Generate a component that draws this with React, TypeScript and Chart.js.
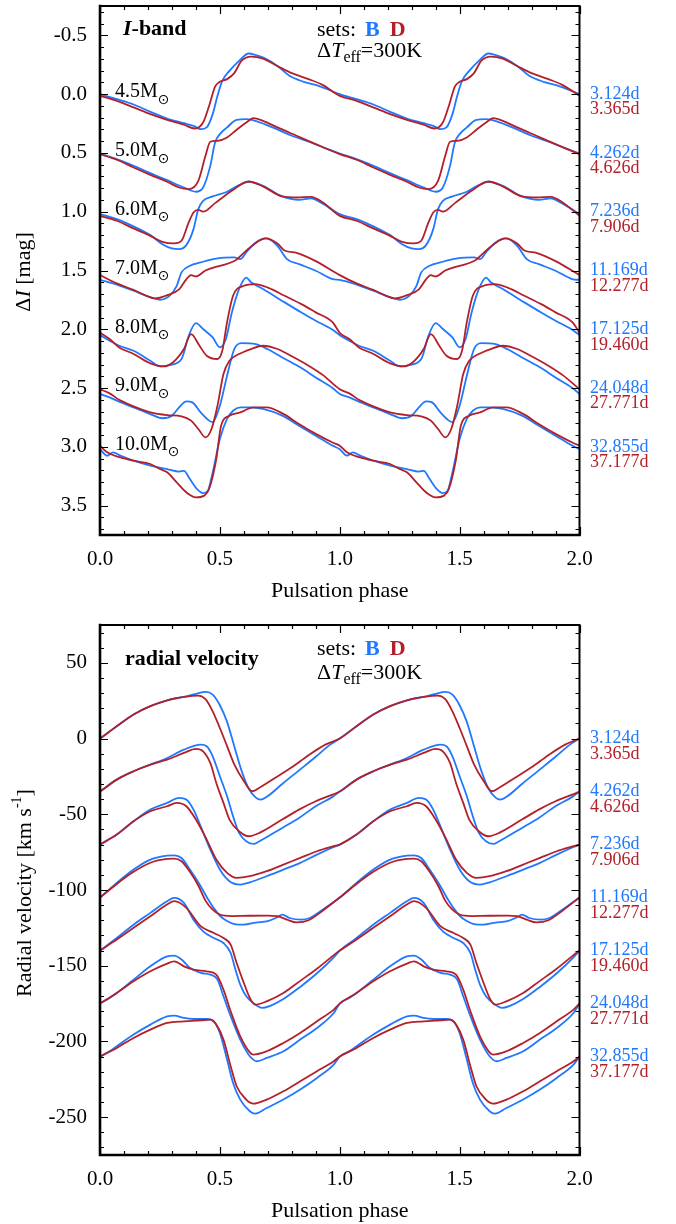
import React, { useEffect, useRef } from 'react';
import { Chart, registerables } from 'chart.js';
Chart.register(...registerables);

const BLUE = '#1f78ff';
const RED = '#b3202a';
const SERIF = '"Liberation Serif", "Times New Roman", serif';

const massLabels = ['4.5', '5.0', '6.0', '7.0', '8.0', '9.0', '10.0'];
const periodsB = ['3.124d', '4.262d', '7.236d', '11.169d', '17.125d', '24.048d', '32.855d'];
const periodsD = ['3.365d', '4.626d', '7.906d', '12.277d', '19.460d', '27.771d', '37.177d'];
const magOffsets = [0, 0.5, 1, 1.5, 2, 2.5, 3];
const rvOffsets = [0, -35, -70, -105, -140, -175, -210];
const phaseTicks = [0, 0.5, 1, 1.5, 2];
const magTicks = [-0.5, 0, 0.5, 1, 1.5, 2, 2.5, 3, 3.5];
const rvTicks = [50, 0, -50, -100, -150, -200, -250];

// ---- I-band light curves, one pulsation cycle: [phase, ΔI] ----
const magB45 = [[0,0],[0.07,0.043],[0.14,0.088],[0.21,0.15],[0.28,0.207],[0.35,0.247],[0.39,0.27],[0.42,0.298],[0.445,0.283],[0.47,0.17],[0.49,0.014],[0.51,-0.113],[0.54,-0.198],[0.58,-0.283],[0.62,-0.346],[0.65,-0.332],[0.69,-0.303],[0.74,-0.24],[0.79,-0.156],[0.85,-0.105],[0.92,-0.065],[1,0]];
const magD45 = [[0,0.014],[0.07,0.057],[0.14,0.113],[0.21,0.17],[0.28,0.218],[0.35,0.26],[0.395,0.292],[0.43,0.241],[0.455,0.1],[0.48,-0.065],[0.5,-0.105],[0.53,-0.128],[0.56,-0.179],[0.59,-0.283],[0.63,-0.32],[0.68,-0.303],[0.74,-0.24],[0.8,-0.179],[0.87,-0.128],[0.93,-0.077],[1,0.014]];
const magB50 = [[0,0.505],[0.07,0.553],[0.14,0.61],[0.21,0.672],[0.28,0.731],[0.35,0.794],[0.4,0.83],[0.43,0.794],[0.46,0.61],[0.48,0.411],[0.5,0.34],[0.53,0.283],[0.57,0.218],[0.61,0.213],[0.66,0.235],[0.72,0.283],[0.8,0.354],[0.88,0.411],[0.95,0.468],[1,0.505]];
const magD50 = [[0,0.51],[0.07,0.558],[0.14,0.624],[0.21,0.686],[0.28,0.745],[0.33,0.794],[0.37,0.808],[0.41,0.737],[0.44,0.524],[0.46,0.405],[0.49,0.397],[0.53,0.368],[0.57,0.303],[0.61,0.241],[0.64,0.204],[0.68,0.227],[0.74,0.283],[0.82,0.354],[0.9,0.425],[1,0.51]];
const magB60 = [[0,1.02],[0.07,1.063],[0.14,1.125],[0.21,1.199],[0.26,1.276],[0.3,1.312],[0.33,1.318],[0.36,1.284],[0.39,1.148],[0.41,0.978],[0.43,0.907],[0.47,0.87],[0.53,0.83],[0.58,0.774],[0.62,0.745],[0.68,0.78],[0.76,0.87],[0.83,0.899],[0.88,0.887],[0.92,0.921],[1,1.02]];
const magD60 = [[0,1.035],[0.07,1.077],[0.14,1.142],[0.21,1.205],[0.26,1.256],[0.31,1.27],[0.34,1.247],[0.37,1.091],[0.39,1.006],[0.41,0.984],[0.43,1.0],[0.48,0.927],[0.55,0.822],[0.62,0.743],[0.68,0.785],[0.76,0.87],[0.82,0.879],[0.88,0.873],[0.93,0.921],[1,1.035]];
const magB70 = [[0,1.58],[0.07,1.62],[0.14,1.672],[0.21,1.729],[0.25,1.749],[0.29,1.716],[0.32,1.63],[0.34,1.516],[0.375,1.46],[0.42,1.431],[0.49,1.397],[0.56,1.389],[0.585,1.403],[0.61,1.346],[0.65,1.261],[0.695,1.227],[0.74,1.29],[0.78,1.403],[0.83,1.446],[0.9,1.502],[0.97,1.573],[1,1.58]];
const magD70 = [[0,1.539],[0.07,1.61],[0.14,1.665],[0.2,1.72],[0.23,1.737],[0.28,1.71],[0.33,1.66],[0.36,1.575],[0.38,1.54],[0.4,1.55],[0.44,1.5],[0.5,1.46],[0.56,1.42],[0.6,1.35],[0.64,1.28],[0.69,1.227],[0.74,1.27],[0.77,1.33],[0.82,1.35],[0.9,1.42],[1,1.539]];
const magB80 = [[0,2.05],[0.04,2.097],[0.08,2.14],[0.14,2.183],[0.21,2.268],[0.25,2.316],[0.29,2.305],[0.34,2.253],[0.37,2.055],[0.4,1.947],[0.43,1.998],[0.47,2.069],[0.5,2.154],[0.525,2.083],[0.55,1.857],[0.58,1.658],[0.61,1.56],[0.63,1.6],[0.68,1.658],[0.77,1.771],[0.84,1.857],[0.9,1.927],[0.97,2.004],[1,2.05]];
const magD80 = [[0,2.03],[0.04,2.083],[0.08,2.154],[0.14,2.21],[0.21,2.29],[0.265,2.316],[0.305,2.28],[0.35,2.168],[0.38,2.041],[0.415,2.14],[0.445,2.225],[0.49,2.253],[0.51,2.183],[0.53,1.94],[0.555,1.715],[0.6,1.63],[0.645,1.616],[0.7,1.645],[0.77,1.715],[0.84,1.786],[0.9,1.856],[0.97,1.94],[1,2.03]];
const magB90 = [[0,2.55],[0.04,2.579],[0.08,2.616],[0.14,2.664],[0.21,2.721],[0.26,2.757],[0.3,2.735],[0.33,2.664],[0.36,2.613],[0.385,2.622],[0.42,2.707],[0.455,2.777],[0.47,2.79],[0.5,2.65],[0.53,2.395],[0.56,2.168],[0.59,2.117],[0.65,2.126],[0.7,2.17],[0.77,2.25],[0.84,2.33],[0.9,2.41],[0.97,2.5],[1,2.55]];
const magD90 = [[0,2.51],[0.04,2.545],[0.08,2.6],[0.14,2.656],[0.21,2.707],[0.28,2.73],[0.34,2.74],[0.38,2.777],[0.41,2.848],[0.44,2.919],[0.465,2.848],[0.49,2.65],[0.515,2.381],[0.54,2.268],[0.58,2.211],[0.63,2.168],[0.68,2.14],[0.74,2.168],[0.8,2.23],[0.87,2.31],[0.93,2.39],[1,2.51]];
const magB100 = [[0,3.02],[0.03,3.075],[0.055,3.047],[0.085,3.075],[0.14,3.118],[0.21,3.16],[0.28,3.189],[0.33,3.211],[0.35,3.204],[0.375,3.274],[0.405,3.359],[0.43,3.393],[0.45,3.373],[0.47,3.217],[0.5,2.934],[0.53,2.763],[0.555,2.693],[0.585,2.664],[0.625,2.664],[0.68,2.678],[0.76,2.735],[0.83,2.82],[0.9,2.905],[0.97,2.99],[1,3.02]];
const magD100 = [[0,2.99],[0.03,3.047],[0.085,3.09],[0.14,3.118],[0.21,3.146],[0.25,3.189],[0.28,3.217],[0.32,3.302],[0.36,3.387],[0.4,3.43],[0.435,3.415],[0.455,3.359],[0.485,3.104],[0.505,2.82],[0.54,2.735],[0.585,2.707],[0.64,2.664],[0.695,2.664],[0.765,2.72],[0.83,2.806],[0.9,2.89],[0.97,2.963],[1,2.99]];

// ---- radial velocity curves, one pulsation cycle: [phase, km/s] ----
const rvB45 = [[0,0],[0.07,8.1],[0.14,15.9],[0.21,21.4],[0.28,25.3],[0.35,27.5],[0.4,29.5],[0.44,30.8],[0.47,29],[0.5,22],[0.53,11],[0.56,-5],[0.59,-21],[0.62,-33],[0.65,-39],[0.67,-40.3],[0.7,-38],[0.76,-30],[0.83,-21],[0.9,-12],[0.96,-4],[1,0]];
const rvD45 = [[0,0],[0.07,8.1],[0.14,15.9],[0.21,21.4],[0.28,25.3],[0.35,27.5],[0.41,28.4],[0.44,26],[0.47,18],[0.5,7],[0.53,-5],[0.56,-17],[0.6,-28],[0.635,-34.8],[0.67,-32],[0.72,-27],[0.8,-19],[0.87,-11],[0.94,-4],[1,0]];
const rvB50 = [[0,-35],[0.07,-27.1],[0.14,-21.6],[0.21,-17.2],[0.28,-12.8],[0.35,-7.3],[0.42,-4],[0.445,-5.1],[0.47,-11.7],[0.5,-24.9],[0.53,-38.1],[0.555,-51.3],[0.58,-62.3],[0.61,-67.8],[0.64,-69.6],[0.665,-67.8],[0.76,-59],[0.83,-52.4],[0.9,-44.7],[0.97,-38.5],[1,-35]];
const rvD50 = [[0,-35],[0.07,-27.1],[0.14,-21.6],[0.21,-17.2],[0.28,-13.9],[0.35,-9.5],[0.4,-6.8],[0.43,-8.4],[0.46,-16.1],[0.485,-29.3],[0.515,-42.5],[0.54,-53.5],[0.58,-61.2],[0.62,-64.5],[0.665,-62.3],[0.76,-53.5],[0.83,-46.9],[0.9,-41.4],[0.97,-37],[1,-35]];
const rvB60 = [[0,-70],[0.07,-63.4],[0.14,-54.6],[0.21,-46.9],[0.28,-42.5],[0.33,-39.2],[0.36,-40.3],[0.39,-46.9],[0.42,-57.9],[0.46,-73.3],[0.5,-86.5],[0.54,-94.2],[0.585,-96.4],[0.625,-94.9],[0.695,-90.9],[0.765,-86.5],[0.835,-82.1],[0.905,-76.6],[0.975,-71.6],[1,-70]];
const rvD60 = [[0,-70],[0.07,-63.4],[0.14,-54.6],[0.21,-48],[0.28,-44.7],[0.32,-42.5],[0.36,-44.7],[0.4,-53.5],[0.445,-66.7],[0.485,-79.9],[0.53,-88.7],[0.57,-92],[0.625,-90.9],[0.695,-87.6],[0.765,-83.2],[0.835,-78.8],[0.905,-74.4],[0.975,-71.1],[1,-70]];
const rvB70 = [[0,-105],[0.07,-95.3],[0.14,-86.5],[0.21,-79.9],[0.28,-77.3],[0.31,-77.1],[0.34,-78.9],[0.375,-86.5],[0.42,-97.5],[0.45,-106],[0.475,-112],[0.5,-117],[0.53,-120.5],[0.56,-122.5],[0.6,-122.9],[0.65,-121.5],[0.7,-120.5],[0.74,-118],[0.76,-116.2],[0.79,-118.5],[0.84,-119.6],[0.875,-118.5],[0.93,-112.9],[1,-105]];
const rvD70 = [[0,-105],[0.07,-96],[0.14,-88],[0.21,-82],[0.28,-79.5],[0.31,-79.3],[0.34,-81],[0.375,-88],[0.41,-97],[0.44,-107],[0.47,-113],[0.5,-116.2],[0.55,-117.2],[0.62,-117],[0.7,-116.9],[0.74,-117.2],[0.78,-119.6],[0.82,-121.4],[0.87,-120],[0.93,-113.5],[1,-105]];
const rvB80 = [[0,-140],[0.07,-131.7],[0.14,-122.9],[0.21,-115.1],[0.28,-107.4],[0.31,-105.2],[0.35,-108.5],[0.39,-119.6],[0.43,-127.3],[0.475,-131.7],[0.515,-135],[0.545,-141.6],[0.565,-152.6],[0.585,-162.5],[0.61,-170.2],[0.655,-176.4],[0.675,-177.9],[0.71,-176.5],[0.765,-172],[0.835,-164],[0.905,-155],[0.975,-144.5],[1,-140]];
const rvD80 = [[0,-140],[0.07,-132.7],[0.14,-125],[0.21,-117.3],[0.28,-109.6],[0.31,-107.4],[0.36,-111.8],[0.42,-123.9],[0.475,-128.4],[0.515,-131.7],[0.545,-136.1],[0.57,-148.2],[0.6,-161.4],[0.625,-171.3],[0.647,-175.7],[0.695,-173.5],[0.765,-168],[0.835,-160],[0.905,-152],[0.975,-143],[1,-140]];
const rvB90 = [[0,-175],[0.04,-171.3],[0.07,-168],[0.14,-159.2],[0.21,-150.4],[0.28,-143.8],[0.31,-143.3],[0.34,-145.9],[0.375,-151.4],[0.42,-154.8],[0.46,-155.9],[0.49,-159.2],[0.515,-170.2],[0.545,-183.4],[0.585,-198.8],[0.625,-209.8],[0.655,-213.1],[0.695,-210.9],[0.765,-206.5],[0.835,-198.8],[0.905,-191.1],[0.975,-181.2],[1,-175]];
const rvD90 = [[0,-175],[0.07,-168],[0.14,-160.3],[0.21,-153.7],[0.28,-148.6],[0.31,-147.1],[0.35,-150.4],[0.39,-152.6],[0.445,-153.7],[0.485,-155.9],[0.515,-165.8],[0.545,-180.1],[0.585,-196.6],[0.625,-207.2],[0.64,-208.7],[0.695,-206.5],[0.765,-201],[0.835,-194.4],[0.905,-186.7],[0.975,-179],[1,-175]];
const rvB100 = [[0,-210],[0.04,-206.5],[0.07,-203.2],[0.14,-195.5],[0.21,-188.9],[0.28,-183.4],[0.31,-182.9],[0.35,-184.5],[0.39,-185.2],[0.445,-185.2],[0.475,-186.7],[0.5,-194.4],[0.53,-212],[0.555,-227.4],[0.585,-238.4],[0.625,-246.1],[0.647,-247.7],[0.695,-244],[0.765,-238.4],[0.835,-231.8],[0.905,-224.1],[0.975,-215.3],[1,-210]];
const rvD100 = [[0,-210],[0.07,-204.3],[0.14,-197.7],[0.21,-192.2],[0.28,-187.8],[0.35,-186.7],[0.42,-186],[0.46,-185.6],[0.485,-188.9],[0.515,-198.8],[0.545,-216.4],[0.57,-229.6],[0.61,-238.4],[0.64,-241.1],[0.695,-238.4],[0.765,-232.9],[0.835,-226.3],[0.905,-219.7],[0.975,-213.1],[1,-210]];

const magSetB = [magB45, magB50, magB60, magB70, magB80, magB90, magB100];
const magSetD = [magD45, magD50, magD60, magD70, magD80, magD90, magD100];
const rvSetB = [rvB45, rvB50, rvB60, rvB70, rvB80, rvB90, rvB100];
const rvSetD = [rvD45, rvD50, rvD60, rvD70, rvD80, rvD90, rvD100];

type Part = { t: string; f: string; c?: string; dy?: number; dx?: number };

function drawParts(ctx: CanvasRenderingContext2D, x: number, y: number, parts: Part[], center = false) {
  let w = 0;
  parts.forEach((p) => { ctx.font = p.f; w += ctx.measureText(p.t).width + (p.dx || 0); });
  let cx = center ? x - w / 2 : x;
  parts.forEach((p) => {
    ctx.font = p.f;
    ctx.fillStyle = p.c || '#000';
    cx += p.dx || 0;
    ctx.fillText(p.t, cx, y + (p.dy || 0));
    cx += ctx.measureText(p.t).width;
  });
}

function twoCycles(cyc: number[][]) {
  const pts = cyc.map(([p, v]) => ({ x: p, y: v }));
  cyc.slice(1).forEach(([p, v]) => pts.push({ x: p + 1, y: v }));
  return pts;
}

const f = (s: number, extra = '') => `${extra} ${s}px ${SERIF}`.trim();

type PanelCfg = {
  setB: number[][][];
  setD: number[][][];
  min: number;
  max: number;
  reverse: boolean;
  ticks: number[];
  minorStep: number;
  majorStep: number;
  padTop: number;
  height: number;
  fmt: (v: number) => string;
  offsets: number[];
  decorate: (ctx: CanvasRenderingContext2D, chart: any) => void;
};

function Panel({ cfg, top }: { cfg: PanelCfg; top: number }) {
  const ref = useRef<HTMLCanvasElement>(null);
  useEffect(() => {
    const datasets: any[] = [];
    cfg.setB.forEach((b, i) => {
      datasets.push({ data: twoCycles(b), borderColor: BLUE, borderWidth: 1.8, order: 2 });
      datasets.push({ data: twoCycles(cfg.setD[i]), borderColor: RED, borderWidth: 1.8, order: 1 });
    });
    const decor = {
      id: 'decor',
      afterDraw(chart: any) {
        const { ctx, chartArea: a, scales } = chart;
        const xs = scales.x, ys = scales.y;
        ctx.save();
        ctx.strokeStyle = '#000';
        ctx.lineWidth = 1.2;
        ctx.beginPath();
        for (let i = 0; i <= 20; i++) {
          const px = Math.round(xs.getPixelForValue(i * 0.1)) + 0.5;
          const L = i % 5 === 0 ? 8 : 4;
          ctx.moveTo(px, a.bottom); ctx.lineTo(px, a.bottom - L);
          ctx.moveTo(px, a.top); ctx.lineTo(px, a.top + L);
        }
        const lo = Math.ceil(Math.min(cfg.min, cfg.max) / cfg.minorStep - 1e-6);
        const hi = Math.floor(Math.max(cfg.min, cfg.max) / cfg.minorStep + 1e-6);
        const ratio = Math.round(cfg.majorStep / cfg.minorStep);
        for (let k = lo; k <= hi; k++) {
          const v = k * cfg.minorStep;
          const py = Math.round(ys.getPixelForValue(v)) + 0.5;
          const L = k % ratio === 0 ? 8 : 4;
          ctx.moveTo(a.left, py); ctx.lineTo(a.left + L, py);
          ctx.moveTo(a.right, py); ctx.lineTo(a.right - L, py);
        }
        ctx.stroke();
        // frame: heavier left/bottom, lighter top/right
        ctx.lineCap = 'square';
        ctx.lineWidth = 2;
        ctx.beginPath();
        ctx.moveTo(a.left, a.top); ctx.lineTo(a.right, a.top); ctx.lineTo(a.right, a.bottom);
        ctx.stroke();
        ctx.lineWidth = 2.6;
        ctx.beginPath();
        ctx.moveTo(a.left, a.top); ctx.lineTo(a.left, a.bottom); ctx.lineTo(a.right, a.bottom);
        ctx.stroke();
        // period labels
        ctx.textBaseline = 'middle';
        ctx.textAlign = 'left';
        cfg.offsets.forEach((o, i) => {
          const py = ys.getPixelForValue(o);
          drawParts(ctx, 590, py, [{ t: periodsB[i], f: f(18), c: BLUE }]);
          drawParts(ctx, 590, py + 15.5, [{ t: periodsD[i], f: f(18), c: RED }]);
        });
        cfg.decorate(ctx, chart);
        ctx.restore();
      },
    };
    const chart = new Chart(ref.current as HTMLCanvasElement, {
      type: 'line',
      data: { datasets },
      options: {
        animation: false,
        responsive: false,
        maintainAspectRatio: false,
        devicePixelRatio: 1,
        layout: { padding: { left: 0, right: 96.5, top: cfg.padTop, bottom: 0 } },
        plugins: { legend: { display: false }, tooltip: { enabled: false } },
        elements: { point: { radius: 0 }, line: { cubicInterpolationMode: 'monotone', borderCapStyle: 'round', borderJoinStyle: 'round' } },
        scales: {
          x: {
            type: 'linear', min: 0, max: 2, position: 'bottom',
            grid: { display: false, drawTicks: false }, border: { display: false },
            afterBuildTicks: (s: any) => { s.ticks = phaseTicks.map((v) => ({ value: v })); },
            afterFit: (s: any) => { s.height = 75; s.paddingLeft = 0; s.paddingRight = 0; },
            ticks: { font: { family: SERIF, size: 21 }, color: '#000', padding: 12, maxRotation: 0, autoSkip: false, callback: (v: any) => Number(v).toFixed(1) },
            title: { display: true, text: 'Pulsation phase', font: { family: SERIF, size: 22 }, color: '#000', padding: { top: 0, bottom: 6 } },
          },
          y: {
            type: 'linear', min: cfg.min, max: cfg.max, reverse: cfg.reverse, position: 'left',
            grid: { display: false, drawTicks: false }, border: { display: false },
            afterBuildTicks: (s: any) => { s.ticks = cfg.ticks.map((v) => ({ value: v })); },
            afterFit: (s: any) => { s.width = 100; s.paddingTop = 0; s.paddingBottom = 0; },
            ticks: { font: { family: SERIF, size: 21 }, color: '#000', padding: 13, autoSkip: false, callback: (v: any) => cfg.fmt(Number(v)) },
          },
        },
      } as any,
      plugins: [decor],
    });
    return () => chart.destroy();
  }, [cfg]);
  return (
    <canvas ref={ref} width={676} height={cfg.height}
      style={{ position: 'absolute', left: 0, top, width: 676, height: cfg.height }} />
  );
}

const setsText = (ctx: CanvasRenderingContext2D, y1: number, y2: number) => {
  ctx.textBaseline = 'alphabetic';
  drawParts(ctx, 317, y1, [
    { t: 'sets:', f: f(22) },
    { t: 'B', f: f(22, 'bold'), c: BLUE, dx: 9 },
    { t: 'D', f: f(22, 'bold'), c: RED, dx: 10 },
  ]);
  drawParts(ctx, 317, y2, [
    { t: 'Δ', f: f(22) },
    { t: 'T', f: f(22, 'italic') },
    { t: 'eff', f: f(16), dy: 5 },
    { t: '=300K', f: f(22) },
  ]);
};

const magCfg: PanelCfg = {
  setB: magSetB, setD: magSetD, min: -0.75, max: 3.75, reverse: true,
  ticks: magTicks, minorStep: 0.1, majorStep: 0.5, padTop: 6, height: 610,
  fmt: (v) => v.toFixed(1), offsets: magOffsets,
  decorate: (ctx, chart) => {
    const ys = chart.scales.y;
    ctx.textBaseline = 'alphabetic';
    drawParts(ctx, 123, 35, [
      { t: 'I', f: f(22, 'italic bold') },
      { t: '-band', f: f(22, 'bold') },
    ]);
    setsText(ctx, 36, 57);
    ctx.textBaseline = 'middle';
    magOffsets.forEach((o, i) => {
      const py = ys.getPixelForValue(o) - 2;
      drawParts(ctx, 115, py, [
        { t: massLabels[i] + 'M', f: f(20) },
        { t: '⊙', f: '14px "DejaVu Sans"', dy: 8 },
      ]);
    });
    ctx.save();
    ctx.translate(24, 272);
    ctx.rotate(-Math.PI / 2);
    ctx.textBaseline = 'middle';
    drawParts(ctx, 0, 0, [
      { t: 'Δ', f: f(22) },
      { t: 'I', f: f(22, 'italic') },
      { t: ' [mag]', f: f(22) },
    ], true);
    ctx.restore();
  },
};

const rvCfg: PanelCfg = {
  setB: rvSetB, setD: rvSetD, min: -275, max: 75, reverse: false,
  ticks: rvTicks, minorStep: 10, majorStep: 50, padTop: 15, height: 620,
  fmt: (v) => String(v), offsets: rvOffsets,
  decorate: (ctx) => {
    ctx.textBaseline = 'alphabetic';
    drawParts(ctx, 125, 55, [{ t: 'radial velocity', f: f(22, 'bold') }]);
    setsText(ctx, 45, 69);
    ctx.save();
    ctx.translate(25, 283);
    ctx.rotate(-Math.PI / 2);
    ctx.textBaseline = 'middle';
    drawParts(ctx, 0, 0, [
      { t: 'Radial velocity [km s', f: f(22) },
      { t: '-1', f: f(14), dy: -8 },
      { t: ']', f: f(22) },
    ], true);
    ctx.restore();
  },
};

export default function App() {
  return (
    <div style={{ position: 'fixed', left: 0, top: 0, width: 676, height: 1224, overflow: 'hidden', background: '#fff' }}>
      <Panel cfg={magCfg} top={0} />
      <Panel cfg={rvCfg} top={610} />
    </div>
  );
}
